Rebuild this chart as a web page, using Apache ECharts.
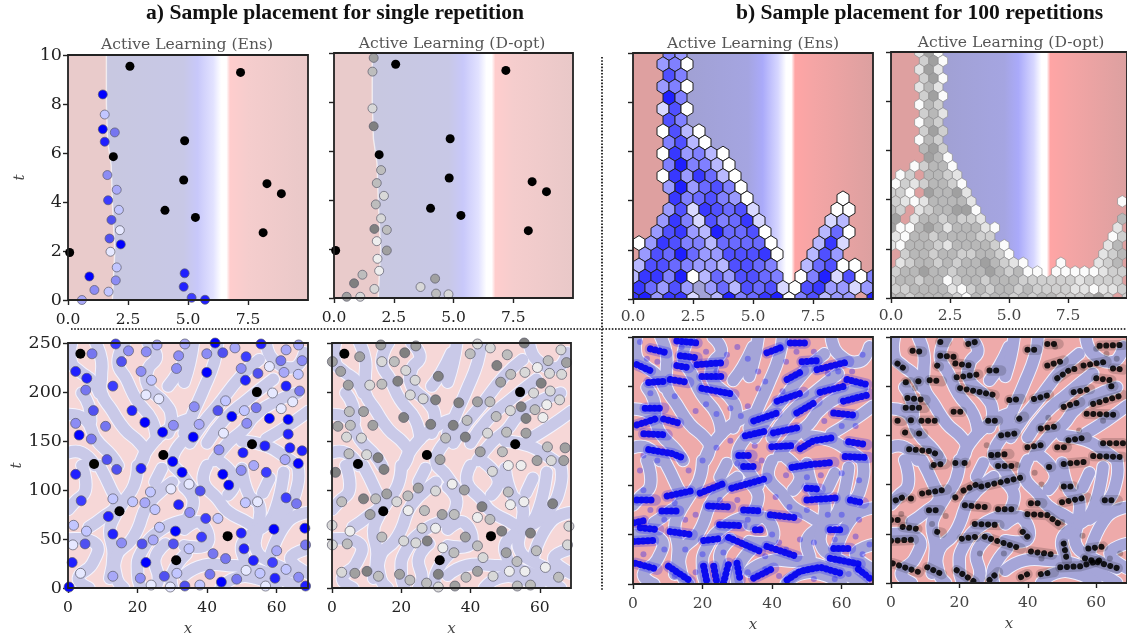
<!DOCTYPE html>
<html><head><meta charset="utf-8">
<style>html,body{margin:0;padding:0;background:#fff;overflow:hidden}#c{width:1127px;height:639px}</style>
<script src="https://cdn.jsdelivr.net/npm/echarts@6/dist/echarts.min.js"></script></head>
<body><div id="c"></div>
<script>
const seedsTop=[[2.58,9.54],[7.19,9.29],[4.86,6.5],[1.89,5.85],[4.82,4.9],[8.29,4.75],[8.89,4.34],[4.04,3.66],[5.31,3.37],[8.13,2.75],[0.07,1.94]];
const ensTop=[[1.45,8.39,9],[1.53,7.57,2],[1.45,6.97,9],[1.95,6.84,5],[1.53,6.46,8],[1.64,5.1,4],[2.03,4.5,3],[1.67,4.07,7],[2.12,3.68,2],[1.81,3.27,6],[2.16,2.85,1],[1.73,2.51,6],[2.2,2.27,9],[1.77,1.97,1],[2.03,1.33,2],[1.99,0.8,4],[0.89,0.96,9],[1.1,0.41,4],[1.69,0.34,2],[0.58,0,3],[4.86,1.09,8],[4.82,0.54,8],[5.15,0.09,7],[5.71,0.01,8]];
const doptTop=[[1.66,9.8,4],[1.61,9.24,3],[1.61,7.74,2],[1.66,7.01,5],[1.97,5.22,3],[1.79,4.69,3],[2.09,4.17,2],[1.75,3.82,3],[1.97,3.25,2],[1.69,2.82,5],[2.21,2.78,3],[1.79,2.32,1],[2.21,1.94,4],[1.82,1.6,1],[1.89,1.11,1],[1.19,0.95,3],[0.84,0.6,5],[1.69,0.37,2],[0.53,0.05,4],[1.1,0.05,2],[4.23,0.79,4],[3.62,0.45,2],[4.27,0.18,3],[4.79,0.15,2]];
const seedsBottom=[[3.56,239],[7.5,126.5],[14.8,78.4],[27.4,135.7],[31.1,28.3],[45.9,52.9],[52.9,146.7],[54.3,199.9]];
const ensBottom=[[6.9,239,5],[13.7,249,7],[17.4,242,4],[15.4,231,6],[22.5,241,4],[25.6,248,3],[33.6,249,3],[31.8,237,4],[31.2,224,4],[42.3,250,9],[39.9,239,4],[44.5,240,6],[48,245,3],[51.2,236,7],[55.5,249,8],[62.7,243,3],[66.3,248,3],[61.2,232,5],[67.3,232,4],[2.2,221,8],[5.4,214,8],[21,221,4],[24,212,2],[39.9,220,9],[49.8,224,4],[57.9,226,1],[62.1,220,3],[66.2,218,2],[54.6,219,6],[51,212,8],[5.1,202,5],[12.9,206,7],[22.4,197,1],[26.1,193,1],[62.7,206,8],[66.6,201,5],[58.8,199,1],[7.3,181,6],[18.4,181,8],[36.3,185,4],[43.1,181,6],[45.3,191,2],[50.7,181,2],[54.1,184,5],[61.3,183,1],[64.6,190,1],[2.2,168,4],[22.1,169,9],[10.8,165,5],[30.3,166,4],[37.7,167,3],[47.1,175,9],[51.4,168,4],[57.9,173,9],[63.3,172,9],[63.3,157,8],[3.2,156,9],[6.7,152,5],[27.2,159,9],[36,154,9],[44.7,158,1],[56.6,145,8],[63.8,143,8],[67.3,140,8],[43.4,141,4],[50.3,138,8],[11.2,131,6],[14,121,6],[30.1,129,9],[32.8,118,9],[62.4,131,3],[66.2,127,9],[53.4,125,3],[49.8,120,4],[2.2,116,8],[21,122,8],[44.5,116,9],[57,118,7],[34.8,106,1],[29.6,101,1],[38,99,6],[46.2,105,9],[23.7,98,2],[3.8,89,7],[12.9,91,2],[18.6,88,2],[22.1,87,3],[25,80,2],[31.8,85,8],[35,77,4],[51,87,2],[54.5,88,1],[62.7,92,7],[65.7,86,5],[11.6,73,8],[39.6,71,7],[43.1,71,2],[1.6,64,2],[5.3,58,2],[26.3,62,2],[12.9,55,8],[30.9,58,9],[38.4,52,7],[49.8,56,8],[59.2,60,9],[68.1,61,9],[4.9,45,6],[1.4,44,1],[15.4,46,4],[21.3,45,6],[24.5,49,3],[30.3,45,6],[34.8,40,2],[41.7,35,5],[50.6,40,8],[60,38,3],[68.3,44,5],[1.2,26,8],[22.4,26,9],[45.3,30,5],[53.3,28,8],[58.8,26,7],[3.6,15,1],[12.9,12,3],[31.3,15,2],[27.7,12,6],[40.8,14,5],[20.8,10,4],[51.2,18,1],[55.2,15,2],[62.7,19,2],[66.3,11,4],[59.5,10,8],[48.5,9,5],[44.1,6,9],[23.9,3,1],[29.4,1,1],[33.6,2,6],[37.9,3,2],[56.8,2,1],[68.3,2,8],[0.3,1,9]];
const doptBottom=[[14.1,248,4],[21,240,5],[24.2,247,4],[8,236,4],[0.1,231,4],[14.4,231,2],[42,249,2],[45.7,245,2],[55.5,250,5],[39.9,239,3],[50.6,238,3],[66.1,243,2],[62.4,232,3],[67.7,230,4],[18,231,3],[47.6,227,5],[59.3,225,1],[2.5,221,4],[21.3,222,2],[30.7,216,5],[51.6,218,3],[55.7,220,2],[62.8,219,2],[66.3,218,2],[4.7,207,4],[10.9,207,2],[14.4,208,3],[19,211,5],[24,212,2],[48.7,210,4],[60.4,209,5],[22.6,197,2],[26.3,193,2],[29.9,192,5],[36.6,189,5],[42,190,4],[45.6,190,3],[58.2,199,2],[63,201,2],[65.7,192,2],[54.6,185,5],[62,187,1],[58.6,182,3],[51.5,181,2],[5,180,3],[9.1,180,4],[20.7,174,5],[39,171,3],[47.4,175,3],[56,173,5],[60.9,174,1],[1.7,165,4],[5.3,166,3],[11.8,166,4],[28.5,167,5],[35,166,5],[44.9,158,2],[50.4,159,3],[56,158,4],[4.2,154,2],[8.5,153,2],[32.8,153,3],[38.5,154,5],[62.2,144,3],[67.3,143,4],[42.8,139,4],[49.2,139,3],[4.9,137,3],[10,136,2],[13.3,133,5],[31.2,131,4],[59.2,130,4],[63.3,130,2],[66.9,130,4],[50.9,125,1],[54.6,125,1],[15,121,5],[1,118,5],[46.3,119,2],[34.7,106,1],[24.9,102,4],[29.9,99,2],[38.2,100,4],[50.9,98,3],[15.8,96,4],[9.1,91,5],[12.6,91,3],[2.8,88,3],[21.9,94,3],[18.7,88,2],[51.5,85,1],[55.4,88,1],[63.7,86,5],[43.3,83,5],[22,79,1],[26.7,79,3],[31.8,75,4],[35.3,75,3],[11,75,4],[42,72,1],[45.6,70,3],[0,64,2],[5.2,58,1],[26,61,2],[29.9,61,1],[49,58,5],[57.3,56,5],[68.4,63,2],[14.4,52,3],[38.5,52,4],[20.7,48,2],[24.2,46,2],[27.5,48,5],[4.4,45,3],[0.1,44,2],[42,43,3],[68,44,2],[32,41,1],[35.2,36,3],[50.3,36,4],[59,38,3],[43.6,31,2],[53.4,27,3],[61.6,21,1],[2.8,16,2],[6.6,15,4],[10.1,17,5],[13.4,12,3],[19.5,14,4],[22.5,8,3],[30.7,14,5],[42,17,4],[51.2,17,1],[55.7,17,1],[38.7,11,3],[46.5,12,2],[65.4,11,3],[27.3,5,3],[30.7,1,2],[35.5,2,4],[53.5,2,3],[57.3,3,3]];
const ensHexRows=[[22,3,'54'],[21,2,'451'],[20,3,'75'],[19,2,'451'],[18,3,'95'],[17,2,'271'],[16,3,'75'],[15,2,'1731'],[14,3,'5731'],[13,2,'184531'],[12,3,'595531'],[11,2,'1848631'],[10,3,'4946751'],[9,3,'8567541'],[8,3,'47287672'],[7,2,'485275682'],[6,2,'4784396671'],[5,0,'148755366661'],[4,1,'476964477781'],[3,0,'377654437765'],[2,0,'3885913647765'],[2,14,'1592715'],[1,0,'86474046376721784424'],[0,0,'894882039568915734409'],[3,14,'36711'],[4,15,'374'],[5,15,'382'],[6,16,'361'],[7,16,'23'],[8,17,'11'],[9,17,'1']];
const doptHexRows=[[28,3,'251'],[27,3,'351'],[26,3,'252'],[25,3,'351'],[24,3,'242'],[23,3,'351'],[22,3,'143'],[21,3,'342'],[20,3,'143'],[19,3,'353'],[18,3,'143'],[17,3,'453'],[16,4,'541'],[15,2,'13441'],[14,1,'1304432'],[13,0,'13234431'],[12,0,'331054452'],[11,0,'321244442'],[10,0,'4302344551'],[9,0,'5024434332'],[8,0,'511454244421'],[7,0,'21443444433'],[6,0,'2144432444431'],[5,1,'344344334431'],[4,1,'23443434454321'],[4,18,'1'],[4,22,'234'],[5,22,'234'],[6,23,'24'],[7,23,'13'],[8,24,'2'],[9,24,'4'],[11,24,'1'],[3,0,'34454434445434110'],[3,17,'11111233'],[2,0,'3443441344344433333323333'],[1,0,'3344442134344343333221223'],[0,0,'44344443143443434433345303']];
const frontT=[10,8,6.5,5.5,4,2,0];
const frontX=[1.6,1.6,1.65,1.8,1.85,1.95,1.85];
const fieldX=[0,1.9,4.8,5.4,6.05,6.38,6.6,6.75,7.5,10];
const fieldLight=['#c8c8e1','#c8c8e1','#c8c8e6','#c8c8fa','#e2e2ff','#ffffff','#ffffff','#ffcdcd','#f5cdcd','#e9c8c8'];
const fieldStrong=['#a0a0d2','#a0a0d2','#a5a5e1','#aaaafa','#d7d7ff','#ffffff','#ffffff','#ffa5a5','#f5a5a5','#dca0a0'];
const blueLevels=['#e6e8ff','#c2c6ff','#a8a8f8','#8c8cf4','#7676f0','#5050f0','#3c3cff','#2020ff','#0000ff'];
const greyLevels=['#eeeeee','#d8d8d8','#bdbdbd','#a0a0a0','#808080'];
const hexBlue=['#ffffff','#d8d8ff','#b8b8ff','#9a9aff','#8080ff','#6a6aff','#5050ff','#3838ff','#2020ff'];
const hexGrey=['#fbfbfb','#e4e4e4','#cfcfcf','#b8b8b8','#a0a0a0'];
const fieldBands=[
[[1,250],[1,230],[3.4,221],[7,211],[9,199]],
[[8,250],[9.6,233],[9.6,216],[9.6,199],[12.5,182],[16.3,162],[20.6,148],[22,138],[20.6,125]],
[[4,199],[6,186],[6.5,170]],
[[0,177],[5,172],[8,152],[12.5,135],[14.4,125]],
[[16.3,250],[14.4,230],[16.8,213],[19.7,192],[24,172],[25.4,152]],
[[23,250],[25.4,236],[23,223],[23,206],[27.8,189],[29.7,175],[28.8,158]],
[[34.5,240],[31.6,220],[28.8,206]],
[[34.5,172],[28.8,162],[23,142],[20.6,125]],
[[0,138],[4,138],[7.7,125]],
[[36,250],[35,230],[33.4,210]],
[[43,250],[42,230],[39,203],[36,179],[33.4,158]],
[[55,233],[49.7,216],[43,186],[39,169],[35,148]],
[[59,213],[51.5,192],[45,172],[40,148]],
[[66,199],[59,189],[53.5,175],[50.6,162],[46,148],[42,130]],
[[57,250],[59,233],[65,225],[68,240]],
[[69,180],[63,165],[57,152]],
[[50,150],[57,145],[62,135],[66,125]],
[[4,125],[5,100],[2,88],[0,80]],
[[9,125],[12.5,100],[14,85],[10,72],[6,62]],
[[20,125],[19,105],[16,88],[13,70],[12,58],[13,35],[12,10]],
[[30,108],[23,85],[20,60],[18,48],[14,33],[14,10],[16,0]],
[[35,70],[27,60],[21,36],[20,15],[21,0]],
[[0,50],[8,45],[7,25],[3,10],[6,0]],
[[28,45],[25,30],[26,10],[25,0]],
[[34,35],[30,15],[30,0]],
[[33.4,103],[36,88],[33.4,67]],
[[40,125],[39,108],[43,91],[46,78],[51.5,67],[53.5,60],[50,44],[51,23],[50,13]],
[[50,122],[52,95],[55,84],[54.5,60],[54,40],[58,27],[66,15]],
[[62,118],[59,74],[55,60]],
[[66,125],[66,105],[63,81],[58,65]],
[[69,77],[63,67],[58,30]],
[[33.4,60],[38,67],[40,45],[33.4,43]],
[[33.4,13],[39,23],[46,23],[53,20],[62,8],[66,0]],
[[44,0],[48,10],[54,10],[60,0]],
[[69,40],[64,30],[69,15]],
[[33,150],[30,130],[33,115],[36,100]],
[[44,128],[48,110],[46,95]],
[[58,112],[56,97]],
[[27,122],[25,108]]
];
const ensStreaks=[[[12.6,246],[18.4,244]],[[5,238],[9.8,234]],[[13.6,231],[18.4,229]],[[1.1,222],[5,216]],[[12.6,221],[16,219]],[[18.4,222],[26,224]],[[4.5,204],[8.8,205]],[[10.7,207],[16,204]],[[19.8,210],[25.6,210]],[[19.8,198],[29,192]],[[45.2,244],[49.5,244]],[[38.5,234],[42.3,239]],[[48.6,225],[52.9,226]],[[52.9,217],[62,225]],[[44.3,207],[49,216]],[[53.8,194],[60.5,200]],[[61.5,207],[67.2,202]],[[60.5,185],[68.2,192]],[[47.1,173],[52.9,185]],[[41.4,185],[49,194]],[[34.7,165],[41.4,173]],[[1.1,161],[6.4,167]],[[8.8,167],[13.1,163]],[[3.5,178],[8.8,178]],[[3.1,152],[9.8,151]],[[4.5,136],[11.2,132],[14.1,128]],[[32.3,150],[38.5,155]],[[40.4,153],[47.1,158]],[[57.7,173],[63.4,171]],[[39.9,139],[46.6,140]],[[48.1,137],[51.9,145],[57.2,148]],[[62,144],[67.2,141]],[[61,129],[67.7,128]],[[30.4,130],[34.2,130]],[[45.7,118],[51,121],[57.7,123]],[[28.4,97],[38.5,107]],[[31.8,119],[35.2,119]],[[9.8,89],[16.5,94]],[[19.3,92],[25.6,101]],[[1.1,85],[6.4,85]],[[21.7,79],[28,78]],[[8.3,74],[13.1,74]],[[31.8,75],[36.1,74]],[[39.5,70],[47.1,67]],[[50,97],[53.8,96]],[[50,85],[58.1,87]],[[0.2,62],[3.1,64]],[[2.1,57],[7.4,55]],[[24.9,60],[31.3,59]],[[10.7,53],[17,50]],[[0.2,43],[5.9,44]],[[20.3,44],[25.1,46]],[[27.5,47],[36.6,33]],[[35.2,55],[36.6,55]],[[38.5,38],[47.1,28]],[[56.7,26],[65.3,20]],[[57.7,36],[62.5,36]],[[44.3,4],[48.1,13],[53.8,17],[59.6,11]],[[10.2,18],[16.5,3]],[[0.7,21],[6.9,15]],[[20.3,18],[21.3,1]],[[23.2,18],[24.1,1]],[[26,1],[27.5,21]],[[29.9,21],[30.8,4]],[[62.5,85],[66.3,82]],[[56.7,55],[60.5,55]],[[64.8,15],[68.7,4]],[[34.7,6],[40.4,16]]];
const ensFaint=[[2,245],[4,228],[7,225],[14,240],[21,235],[24,215],[27,232],[30,240],[33,228],[36,215],[38,205],[44,225],[47,235],[52,235],[56,213],[59,215],[63,215],[66,232],[5,193],[12,190],[18,175],[21,182],[24,172],[28,178],[31,170],[33,180],[36,198],[43,195],[55,165],[60,160],[64,160],[3,130],[2,115],[7,125],[16,115],[20,125],[24,138],[28,145],[30,122],[35,140],[37,125],[44,110],[50,108],[54,110],[60,112],[65,105],[3,95],[5,75],[12,82],[18,70],[25,85],[30,85],[33,65],[41,88],[45,78],[50,75],[56,70],[60,70],[65,65],[9,65],[15,65],[3,30],[9,35],[15,35],[20,30],[26,32],[40,50],[42,42],[44,35],[38,28],[48,45],[52,42],[58,45],[64,48],[68,40],[12,8],[18,12],[33,12],[38,15],[42,8],[52,5],[58,5],[62,10],[66,30]];
const doptStreaks=[[[6.3,236],[9.1,235]],[[14.4,245],[16.3,245]],[[22.6,243],[24.7,245]],[[14.4,231],[18.3,230]],[[1.9,223],[3.8,218]],[[13.5,221],[14,220]],[[18.8,223],[23.1,221]],[[19.2,209],[25.5,212]],[[28.8,216],[32.2,216]],[[4.3,204],[5.8,204]],[[8,205],[8.2,205]],[[11.3,206],[14.9,205]],[[20.2,198],[30.3,191]],[[4.8,188],[10.1,186]],[[4.3,178],[9.9,178]],[[34.6,186],[38,187]],[[18.3,174],[20.7,174]],[[1.9,165],[3.4,165]],[[5.8,165.5],[6,165.5]],[[8.9,165],[12.8,165]],[[28.4,165],[31.3,165]],[[4.1,153],[5.8,152]],[[8.2,152],[9.4,152]],[[5.3,136],[11.5,134],[13.9,130]],[[29.3,130],[34.6,131]],[[12.5,120],[15.9,121]],[[18.8,122],[19.2,122]],[[21.5,122],[21.9,122]],[[26.4,98],[38,107]],[[31.3,119],[36.1,119]],[[21.2,94],[25.5,101]],[[9.1,91],[16.3,95]],[[1.4,84],[3.4,87]],[[5.8,86],[5.9,86]],[[18.8,87],[19.5,88]],[[21.6,79],[27.9,77]],[[11.1,74],[14.4,74]],[[31.3,75],[36.1,75]],[[39.9,70],[45.7,69],[49.5,59]],[[40.9,81],[44.2,81]],[[0,64],[3.4,64]],[[3.4,57],[7.7,55]],[[24.5,60],[31.7,59]],[[13.5,52],[14.9,51]],[[0,43],[6.7,44]],[[20.7,45],[25,47]],[[27.4,47],[30.8,43],[38,35]],[[38.5,52],[39.9,47]],[[40.9,32],[47.1,29]],[[0.5,20],[8.2,11]],[[10.6,16],[14.9,9]],[[19.2,13],[24.5,1]],[[28.8,3],[31.3,11]],[[38,6],[39.9,9]],[[43.8,9],[47.6,11]],[[49.5,16],[55.3,17],[61.1,23]],[[56.7,25],[66.3,15]],[[50.5,40],[51.4,23]],[[57.7,35],[62,37]],[[50,82],[57.2,87]],[[62.5,84],[66.3,84]],[[50.5,98],[53.4,98]],[[50.5,121],[56.7,123]],[[46.2,118],[46.8,118]],[[39.9,138],[43.8,140]],[[48.6,138],[51.4,138]],[[51.9,145],[57.2,148]],[[59.1,129],[67.8,128]],[[62,142],[67.9,142]],[[57.2,172],[65.4,171]],[[43.8,157],[48.1,159]],[[50.5,179],[55.3,184]],[[59.1,182],[67.8,191]],[[53.4,194],[58.2,197]],[[41.8,187],[46.2,191]],[[37.5,167],[38.9,169]],[[32.2,150],[36.5,152]],[[48.6,208],[52.4,217],[55.3,218]],[[56.3,221],[63,225]],[[45.7,221],[50.5,226]],[[39.9,237],[42.8,237]],[[45.7,243],[49,243]],[[61,241],[67.9,242]],[[64.9,218],[67.9,217]],[[64.4,200],[65,200]],[[60,208],[64.4,206]]];
const doptFaint=[[5,205],[7,198],[30,128],[12,118],[28,140],[37,120],[3,70],[12,60],[16,68],[46,168],[55,155],[62,165],[60,238],[63,233],[66,228],[48,240],[44,100],[42,112],[50,62],[56,48],[44,25],[64,25],[67,30],[26,30],[33,30]];

const panelDefs=[
 {l:68,t:55,w:240,h:245,top:true,seeds:seedsTop,pts:ensTop,lev:blueLevels,title:'Active Learning (Ens)',tx:187,ty:43,yLab:true,tc:'#222',ylabel:true,mg:12},
 {l:334,t:53,w:239,h:245,top:true,seeds:seedsTop,pts:doptTop,lev:greyLevels,title:'Active Learning (D-opt)',tx:452,ty:42,tc:'#222',mg:12},
 {l:633,t:53,w:240,h:246,top:true,hex:ensHexRows,hc:hexBlue,edge:'#222222',ew:1,dx:0.5,dr:10/22,strong:true,title:'Active Learning (Ens)',tx:753,ty:42,tc:'#444',mg:10},
 {l:891,t:52,w:240,h:246,top:true,hex:doptHexRows,hc:hexGrey,edge:'#909090',ew:0.7,dx:0.4,dr:10/28,strong:true,title:'Active Learning (D-opt)',tx:1011,ty:41,tc:'#444',mg:10},
 {l:68,t:343,w:240,h:245,seeds:seedsBottom,pts:ensBottom,lev:blueLevels,yLab:true,tc:'#222',ylabel:true,xlabel:true,mg:12},
 {l:332,t:343,w:239,h:245,seeds:seedsBottom,pts:doptBottom,lev:greyLevels,tc:'#222',xlabel:true,mg:12},
 {l:633,t:337,w:240,h:247,strong:true,streaks:ensStreaks,scol:'rgba(0,0,240,0.92)',halo:'rgba(0,0,255,0.22)',sw:7,dash:[0.1,4.6],faint:ensFaint,fcol:'rgba(0,0,255,0.3)',tc:'#444',xlabel:true,mg:12},
 {l:891,t:337,w:240,h:246,strong:true,streaks:doptStreaks,scol:'rgba(0,0,0,0.88)',halo:'rgba(0,0,0,0.16)',sw:6,dash:[0.1,6.5],faint:doptFaint,fcol:'rgba(0,0,0,0.25)',tc:'#444',xlabel:true,mg:12}
];
const serif='"DejaVu Serif"';
const grid=[],xAxis=[],yAxis=[],series=[],title=[];
const head=(text,l)=>title.push({text,left:l,top:2,padding:0,textStyle:{fontFamily:'"Liberation Serif"',fontWeight:'bold',fontSize:21.6,color:'#111'}});
head('a) Sample placement for single repetition',146);
head('b) Sample placement for 100 repetitions',736);
const lineLayer=(ax,z,items,style,smooth)=>series.push({...ax,type:'custom',z,clip:true,coordinateSystem:'cartesian2d',
 data:items.map((b,k)=>[b[0][0],b[0][1],k]),encode:{x:0,y:1},
 renderItem:(pr,api)=>({type:'polyline',shape:{points:items[pr.dataIndex].map(q=>api.coord(q)),smooth},style:{fill:null,lineCap:'round',lineJoin:'round',...style}})});
panelDefs.forEach((p,i)=>{
 const xMax=p.top?10:69,yMax=p.top?10:250;
 grid.push({left:p.l,top:p.t,width:p.w,height:p.h,show:true,backgroundColor:p.top?'#ffffff':(p.strong?'#eeaaaa':'#f6d7d7'),borderWidth:0,containLabel:false});
 const xVals=p.top?[0,2.5,5,7.5]:[0,20,40,60];
 const yVals=p.top?[0,2,4,6,8,10]:[0,50,100,150,200,250];
 xAxis.push({gridIndex:i,type:'value',min:0,max:xMax,splitLine:{show:false},axisLine:{show:false},
  axisTick:{length:5,lineStyle:{color:'#222',width:1.4},customValues:xVals},
  axisLabel:{customValues:xVals,color:p.tc,fontFamily:serif,fontSize:15.5,margin:p.mg,formatter:v=>p.top?v.toFixed(1):String(v),showMinLabel:true},
  name:p.xlabel?'x':'',nameLocation:'middle',nameGap:34,nameTextStyle:{fontFamily:serif,fontStyle:'italic',fontSize:15,color:'#444'}});
 yAxis.push({gridIndex:i,type:'value',min:0,max:yMax,splitLine:{show:false},axisLine:{show:false},
  axisTick:{length:5,lineStyle:{color:'#222',width:1.4},customValues:yVals},
  axisLabel:{show:!!p.yLab,customValues:yVals,color:p.tc,fontFamily:serif,fontSize:17.5,margin:6,showMaxLabel:true},
  name:p.ylabel?'t':'',nameLocation:'middle',nameGap:40,nameRotate:90,nameTextStyle:{fontFamily:serif,fontStyle:'italic',fontSize:15,color:'#444'}});
 const ax={xAxisIndex:i,yAxisIndex:i,animation:false,silent:true};
 if(p.top){
  const cols=p.strong?fieldStrong:fieldLight;
  const left=p.strong?'#dea0a0':'#e9cbcb';
  series.push({...ax,type:'custom',z:1,clip:true,coordinateSystem:'cartesian2d',data:[[0,0,xMax,yMax]],
   encode:{x:[0,2],y:[1,3]},
   renderItem:(pr,api)=>{
    const a=api.coord([0,yMax]),b=api.coord([xMax,0]);
    return {type:'rect',shape:{x:a[0],y:a[1],width:b[0]-a[0],height:b[1]-a[1]},
     style:{fill:new echarts.graphic.LinearGradient(0,0,1,0,fieldX.map((x,k)=>({offset:x/xMax,color:cols[k]})))}};
   }});
  const poly=frontT.map((t,k)=>[frontX[k],t]);
  series.push({...ax,type:'custom',z:2,clip:true,coordinateSystem:'cartesian2d',data:[[0,0]],
   renderItem:(pr,api)=>{
    const pts=[[0,10],...poly,[0,0]].map(q=>api.coord(q));
    return {type:'group',children:[
     {type:'polygon',shape:{points:pts},style:{fill:left}},
     {type:'polyline',shape:{points:poly.map(q=>api.coord(q))},style:{fill:null,stroke:'rgba(255,255,255,0.65)',lineWidth:1.4}}]};
   }});
 } else {
  lineLayer(ax,1,fieldBands,{stroke:p.strong?'#f0f0ff':'#f4f4ff',lineWidth:13.5},0.5);
  lineLayer(ax,2,fieldBands,{stroke:p.strong?'#a5a5d8':'#c9c9e8',lineWidth:11.5},0.5);
 }
 if(p.hex){
  const hexes=[];
  p.hex.forEach(([k,n0,digits])=>{[...digits].forEach((d,j)=>{ if(d!=='0'){hexes.push([(n0+j)*p.dx+(k%2?p.dx/2:0),k*p.dr,+d]);}});});
  series.push({...ax,type:'custom',z:3,clip:true,coordinateSystem:'cartesian2d',data:hexes,encode:{x:0,y:1},
   renderItem:(pr,api)=>{
    const x=api.value(0),t=api.value(1),c=p.hc[api.value(2)-1],hw=p.dx/2,r=p.dr;
    const pts=[[x,t+2*r/3],[x+hw,t+r/3],[x+hw,t-r/3],[x,t-2*r/3],[x-hw,t-r/3],[x-hw,t+r/3]].map(q=>api.coord(q));
    return {type:'polygon',shape:{points:pts},style:{fill:c,stroke:p.edge,lineWidth:p.ew}};
   }});
 }
 if(p.streaks){
  series.push({...ax,type:'scatter',z:3,symbolSize:6,data:p.faint,itemStyle:{color:p.fcol,opacity:1}});
  lineLayer(ax,3,p.streaks,{stroke:p.halo,lineWidth:p.sw+4.5},0);
  lineLayer(ax,4,p.streaks,{stroke:p.scol,lineWidth:p.sw,lineDash:p.dash},0);
 }
 if(p.pts){
  const sz=p.top?9:10;
  series.push({...ax,type:'scatter',z:5,symbolSize:sz,clip:true,data:p.pts.map(q=>({value:[q[0],q[1]],itemStyle:{color:p.lev[q[2]-1],opacity:1,borderColor:'#5a5a6a',borderWidth:0.7}}))});
  series.push({...ax,type:'scatter',z:6,symbolSize:sz,clip:true,data:p.seeds,itemStyle:{color:'#000',opacity:1}});
 }
 series.push({...ax,type:'custom',z:9,clip:false,coordinateSystem:'cartesian2d',data:[[0,0]],
  renderItem:(pr,api)=>{
   const a=api.coord([0,yMax]),b=api.coord([xMax,0]);
   return {type:'rect',shape:{x:a[0],y:a[1],width:b[0]-a[0],height:b[1]-a[1]},style:{fill:null,stroke:'#222',lineWidth:1.8}};
  }});
 if(p.title) title.push({text:p.title,left:p.tx,top:p.ty+2,padding:0,textAlign:'center',textVerticalAlign:'middle',textStyle:{fontFamily:serif,fontWeight:'normal',fontSize:15.6,color:'#555'}});
});
const chart=echarts.init(document.getElementById('c'),null,{renderer:'canvas'});
chart.setOption({animation:false,backgroundColor:'#fff',title,grid,xAxis,yAxis,series,
 graphic:[
  {type:'line',shape:{x1:71,y1:329,x2:1127,y2:329},style:{stroke:'#000',lineWidth:1.6,lineDash:[1.6,1.6]},z:20},
  {type:'line',shape:{x1:602,y1:57,x2:602,y2:590},style:{stroke:'#000',lineWidth:1.6,lineDash:[1.6,1.6]},z:20}
 ]});
</script></body></html>
